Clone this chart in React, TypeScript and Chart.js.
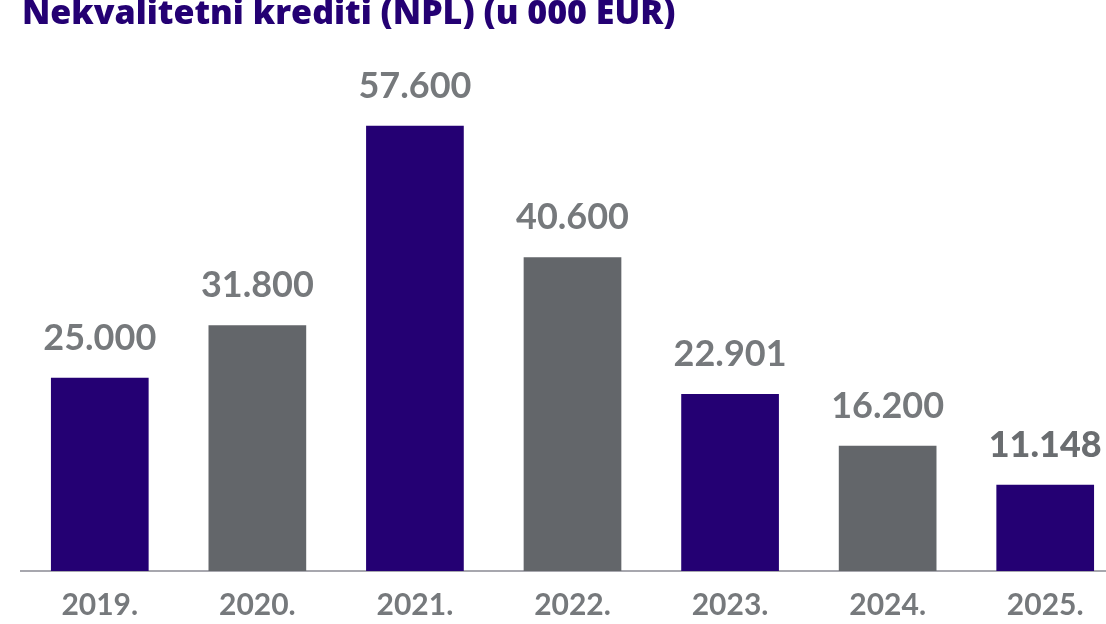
import React, { useEffect, useRef } from "react";
import { Chart, registerables } from "chart.js";

Chart.register(...registerables);

const TITLE = "Nekvalitetni krediti (NPL) (u 000 EUR)";
const years = ["2019.", "2020.", "2021.", "2022.", "2023.", "2024.", "2025."];
const values = [25000, 31800, 57600, 40600, 22901, 16200, 11148];
const valueLabels = ["25.000", "31.800", "57.600", "40.600", "22.901", "16.200", "11.148"];
const barColors = ["#240073", "#63666a", "#240073", "#63666a", "#240073", "#63666a", "#240073"];

const PURPLE = "#240073";
const LABEL_GRAY = "#76797c";

const valueLabelPlugin = {
  id: "valueLabels",
  afterDatasetsDraw(chart: any) {
    const ctx = chart.ctx;
    const meta = chart.getDatasetMeta(0);
    ctx.save();
    ctx.textAlign = "center";
    ctx.textBaseline = "alphabetic";
    meta.data.forEach((bar: any, i: number) => {
      const last = i === meta.data.length - 1;
      ctx.fillStyle = last ? "#6a6d70" : LABEL_GRAY;
      ctx.font = (last ? "900 " : "700 ") + "36px Lato, 'Open Sans', sans-serif";
      ctx.fillText(valueLabels[i], bar.x, bar.y - 28);
    });
    ctx.restore();
  },
};

const titlePlugin = {
  id: "customTitle",
  afterDraw(chart: any) {
    const ctx = chart.ctx;
    ctx.save();
    ctx.fillStyle = PURPLE;
    ctx.font = "800 34px 'Open Sans', Lato, sans-serif";
    ctx.textAlign = "left";
    ctx.textBaseline = "alphabetic";
    ctx.fillText(TITLE, 22, 24);
    ctx.restore();
  },
};

export default function App() {
  const ref = useRef<HTMLCanvasElement | null>(null);
  useEffect(() => {
    document.body.style.margin = "0";
    document.body.style.overflow = "hidden";
    const chart = new Chart(ref.current as HTMLCanvasElement, {
      type: "bar",
      data: {
        labels: years,
        datasets: [
          {
            data: values,
            backgroundColor: barColors,
            categoryPercentage: 1,
            barPercentage: 0.62,
          },
        ],
      },
      options: {
        animation: false,
        responsive: false,
        maintainAspectRatio: false,
        layout: { padding: { left: 21, right: 6, top: 30, bottom: 0 } },
        plugins: {
          legend: { display: false },
          tooltip: { enabled: false },
          title: { display: false },
        },
        scales: {
          y: {
            display: false,
            min: 0,
            max: 70000,
          },
          x: {
            grid: { display: false, drawTicks: false },
            border: { display: true, color: "#a7a7ae", width: 2 },
            ticks: {
              color: LABEL_GRAY,
              font: { family: "Lato, 'Open Sans', sans-serif", size: 30, weight: "bold" },
              padding: 16,
            },
          },
        },
      },
      plugins: [valueLabelPlugin, titlePlugin],
    });
    return () => chart.destroy();
  }, []);
  return (
    <div style={{ position: "absolute", left: 0, top: 0, width: 1130, height: 639 }}>
      <canvas ref={ref} width={1130} height={639} style={{ width: 1130, height: 639 }} />
    </div>
  );
}
